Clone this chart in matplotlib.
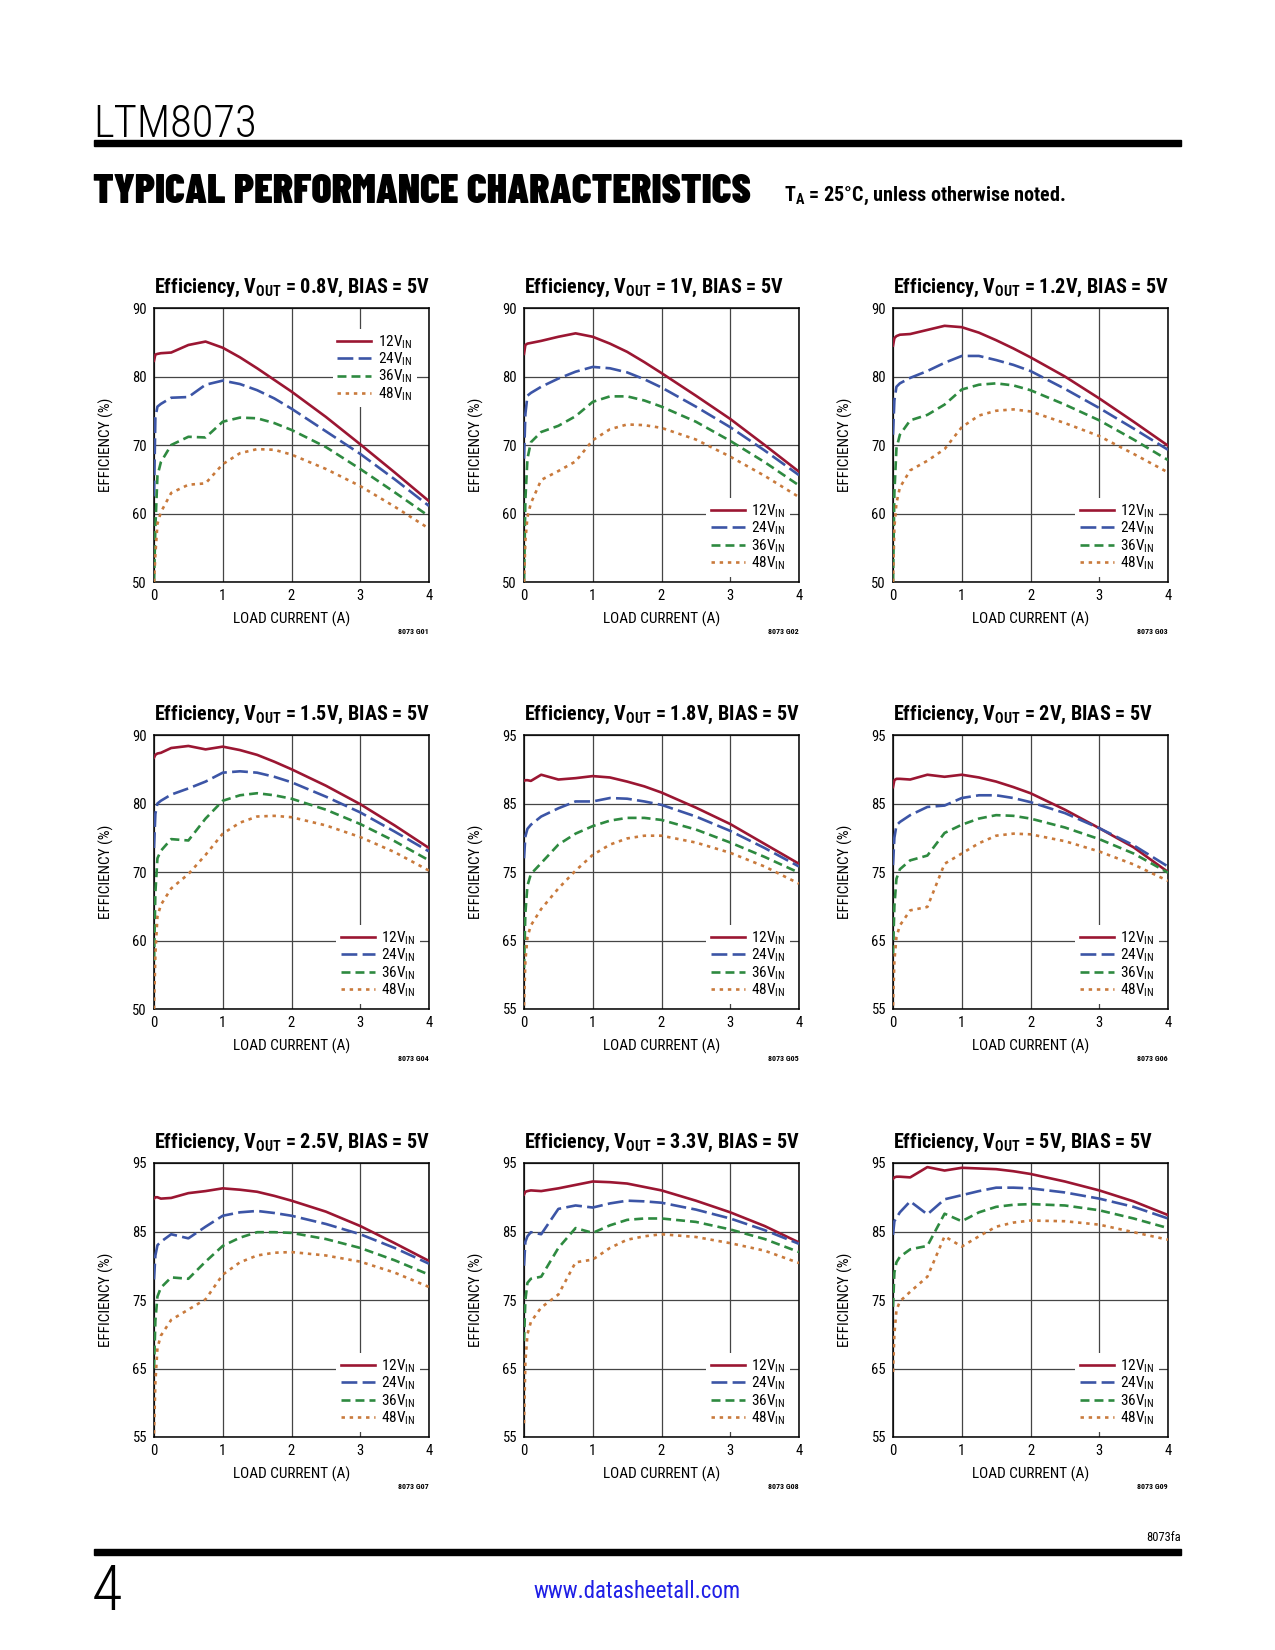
import matplotlib
matplotlib.use('Agg')
import matplotlib.pyplot as plt
from matplotlib.patches import Rectangle

COND = 'Roboto Condensed'
plt.rcParams['font.family'] = [COND, 'Archivo Narrow', 'DejaVu Sans']
plt.rcParams['mathtext.fontset'] = 'custom'
plt.rcParams['mathtext.rm'] = COND
plt.rcParams['mathtext.bf'] = COND + ':bold'
plt.rcParams['mathtext.it'] = COND + ':italic'

# load current grid (A), shared by every curve
load_current = [0, 0.02, 0.05, 0.1, 0.25, 0.5, 0.75, 1.0, 1.25, 1.5, 1.75, 2.0, 2.5, 3.0, 3.5, 4.0]

vin_labels = ['12V$_{\\mathrm{IN}}$', '24V$_{\\mathrm{IN}}$', '36V$_{\\mathrm{IN}}$', '48V$_{\\mathrm{IN}}$']
vout_labels = ['0.8V', '1V', '1.2V', '1.5V', '1.8V', '2V', '2.5V', '3.3V', '5V']
graph_ids = ['G01', 'G02', 'G03', 'G04', 'G05', 'G06', 'G07', 'G08', 'G09']
y_ranges = [(50, 90)] * 4 + [(55, 95)] * 5

# efficiency (%)
g01_12 = [82.3, 83.2, 83.3, 83.4, 83.5, 84.6, 85.1, 84.2, 82.8, 81.2, 79.5, 77.8, 74.1, 70.1, 66.0, 61.8]
g01_24 = [62.5, 74.0, 75.6, 76.0, 76.9, 77.0, 78.8, 79.4, 78.9, 78.0, 76.8, 75.3, 72.0, 68.7, 65.0, 61.1]
g01_36 = [50.0, 58.0, 65.5, 67.5, 70.0, 71.2, 71.1, 73.4, 74.0, 73.9, 73.2, 72.2, 69.7, 66.5, 63.1, 59.6]
g01_48 = [50.0, 54.0, 58.5, 60.2, 63.0, 64.2, 64.4, 67.2, 68.8, 69.4, 69.3, 68.6, 66.5, 64.0, 61.0, 57.8]

g02_12 = [83.3, 84.6, 84.8, 84.9, 85.2, 85.8, 86.3, 85.8, 84.8, 83.6, 82.1, 80.5, 77.2, 73.8, 70.0, 66.1]
g02_24 = [68.0, 74.5, 77.2, 77.6, 78.5, 79.7, 80.7, 81.4, 81.2, 80.6, 79.6, 78.4, 75.6, 72.6, 69.2, 65.6]
g02_36 = [50.0, 62.0, 68.0, 70.4, 71.9, 72.8, 74.2, 76.3, 77.1, 77.1, 76.5, 75.6, 73.4, 70.6, 67.5, 64.1]
g02_48 = [50.0, 56.0, 59.5, 61.5, 64.9, 66.2, 67.6, 70.7, 72.3, 73.0, 72.9, 72.5, 70.8, 68.3, 65.5, 62.4]

g03_12 = [84.5, 85.6, 85.9, 86.1, 86.2, 86.8, 87.4, 87.2, 86.4, 85.3, 84.1, 82.8, 80.0, 76.8, 73.4, 69.9]
g03_24 = [71.5, 76.5, 78.5, 79.0, 79.8, 80.8, 82.0, 83.0, 83.0, 82.4, 81.7, 80.8, 78.2, 75.4, 72.4, 69.3]
g03_36 = [50.0, 63.0, 69.5, 71.5, 73.6, 74.4, 75.9, 78.1, 78.8, 79.0, 78.7, 78.0, 75.9, 73.6, 70.8, 67.8]
g03_48 = [50.0, 58.0, 61.5, 63.8, 66.3, 67.7, 69.4, 72.6, 74.3, 75.0, 75.2, 74.9, 73.2, 71.3, 68.7, 66.0]

g04_12 = [86.7, 87.1, 87.3, 87.4, 88.1, 88.4, 87.9, 88.3, 87.8, 87.1, 86.1, 85.0, 82.6, 79.9, 76.8, 73.5]
g04_24 = [73.5, 78.5, 80.0, 80.4, 81.3, 82.2, 83.2, 84.5, 84.7, 84.5, 83.9, 83.1, 81.0, 78.7, 75.9, 73.0]
g04_36 = [57.0, 67.0, 72.0, 73.1, 74.8, 74.6, 77.8, 80.4, 81.2, 81.5, 81.2, 80.7, 79.1, 77.0, 74.5, 71.7]
g04_48 = [50.0, 58.0, 63.5, 65.2, 67.6, 69.7, 72.5, 75.6, 77.2, 78.1, 78.2, 78.0, 76.8, 75.1, 72.9, 70.2]

g05_12 = [88.3, 88.4, 88.4, 88.3, 89.2, 88.5, 88.7, 89.0, 88.8, 88.2, 87.5, 86.6, 84.4, 82.0, 79.1, 76.2]
g05_24 = [77.0, 80.2, 81.3, 81.9, 83.1, 84.3, 85.3, 85.3, 85.8, 85.7, 85.3, 84.8, 83.1, 81.0, 78.5, 75.8]
g05_36 = [61.0, 69.0, 73.0, 74.7, 76.3, 79.0, 80.6, 81.7, 82.5, 82.9, 82.9, 82.6, 81.2, 79.3, 77.2, 74.9]
g05_48 = [55.5, 62.0, 65.5, 67.2, 69.6, 72.6, 75.2, 77.5, 79.0, 79.9, 80.3, 80.3, 79.3, 77.8, 75.8, 73.3]

g06_12 = [87.4, 88.4, 88.6, 88.6, 88.5, 89.2, 88.9, 89.2, 88.8, 88.2, 87.4, 86.5, 84.1, 81.4, 78.6, 75.0]
g06_24 = [76.0, 80.0, 81.8, 82.3, 83.3, 84.5, 84.7, 85.8, 86.2, 86.2, 85.8, 85.2, 83.6, 81.4, 78.9, 75.8]
g06_36 = [63.0, 70.0, 74.0, 75.4, 76.7, 77.4, 80.7, 81.9, 82.8, 83.3, 83.2, 82.8, 81.5, 79.8, 77.7, 74.9]
g06_48 = [55.5, 62.0, 65.5, 67.2, 69.4, 69.9, 76.2, 77.7, 79.2, 80.3, 80.6, 80.5, 79.5, 78.0, 76.1, 73.7]

g07_12 = [89.8, 90.0, 90.0, 89.8, 89.9, 90.6, 90.9, 91.3, 91.1, 90.8, 90.2, 89.5, 87.9, 85.8, 83.3, 80.7]
g07_24 = [78.0, 81.5, 83.0, 83.5, 84.6, 84.0, 85.7, 87.3, 87.8, 88.0, 87.7, 87.3, 86.1, 84.6, 82.6, 80.3]
g07_36 = [65.0, 72.0, 75.5, 76.8, 78.3, 78.1, 80.6, 82.9, 84.1, 84.9, 84.9, 84.8, 83.9, 82.6, 80.8, 78.7]
g07_48 = [55.5, 63.0, 68.0, 69.8, 72.1, 73.6, 75.1, 78.7, 80.5, 81.5, 81.9, 82.0, 81.5, 80.6, 79.0, 76.9]

g08_12 = [90.4, 90.8, 90.9, 91.0, 90.9, 91.3, 91.8, 92.3, 92.2, 92.0, 91.5, 91.0, 89.5, 87.8, 85.8, 83.4]
g08_24 = [80.0, 83.5, 84.3, 84.9, 84.6, 88.3, 88.8, 88.5, 89.1, 89.5, 89.4, 89.2, 88.2, 86.9, 85.2, 83.2]
g08_36 = [69.0, 75.0, 77.5, 78.1, 78.4, 82.6, 85.5, 84.8, 85.9, 86.7, 86.9, 86.9, 86.4, 85.3, 83.9, 82.0]
g08_48 = [57.0, 66.0, 70.0, 71.8, 73.9, 75.8, 80.5, 80.9, 82.6, 83.8, 84.3, 84.6, 84.2, 83.3, 82.2, 80.4]

g09_12 = [92.7, 92.9, 93.0, 93.0, 92.9, 94.4, 93.9, 94.3, 94.2, 94.1, 93.8, 93.4, 92.3, 91.0, 89.4, 87.4]
g09_24 = [84.5, 86.5, 87.0, 87.8, 89.4, 87.5, 89.7, 90.3, 90.9, 91.4, 91.4, 91.3, 90.7, 89.8, 88.6, 86.9]
g09_36 = [74.0, 79.0, 80.5, 81.3, 82.4, 82.9, 87.6, 86.5, 87.8, 88.6, 88.9, 89.0, 88.8, 88.1, 86.9, 85.5]
g09_48 = [64.5, 70.0, 73.5, 74.8, 76.2, 78.4, 84.3, 82.8, 84.3, 85.7, 86.3, 86.6, 86.5, 86.0, 84.9, 83.8]

graphs = [
    (g01_12, g01_24, g01_36, g01_48),
    (g02_12, g02_24, g02_36, g02_48),
    (g03_12, g03_24, g03_36, g03_48),
    (g04_12, g04_24, g04_36, g04_48),
    (g05_12, g05_24, g05_36, g05_48),
    (g06_12, g06_24, g06_36, g06_48),
    (g07_12, g07_24, g07_36, g07_48),
    (g08_12, g08_24, g08_36, g08_48),
    (g09_12, g09_24, g09_36, g09_48),
]

colors = ['#9b1632', '#3c55a6', '#2e8a40', '#c97a3c']
dashes = [None, (6.0, 2.0), (3.4, 1.9), (1.3, 1.8)]

W, H = 1275, 1650
fig = plt.figure(figsize=(W / 100, H / 100), dpi=100)


def fx(px):
    return px / W


def fy(py):
    return 1 - py / H


# page header / footer
fig.text(fx(93), fy(137), 'LTM8073', fontsize=32, fontweight='light', ha='left', va='baseline')
fig.add_artist(Rectangle((fx(94), fy(146)), fx(1181) - fx(94), 6 / H,
                         transform=fig.transFigure, color='black'))
fig.text(fx(93), fy(203), 'TYPICAL PERFORMANCE CHARACTERISTICS', fontsize=30,
         fontweight=900, family=['Barlow Condensed', 'Oswald', COND],
         ha='left', va='baseline')
fig.text(fx(784), fy(201), 'T$_{\\mathbf{A}}$ = 25°C, unless otherwise noted.',
         fontsize=14.5, fontweight='bold', ha='left', va='baseline')

fig.text(fx(1181), fy(1541), '8073fa', fontsize=9, ha='right', va='baseline')
fig.add_artist(Rectangle((fx(94), fy(1555)), fx(1181) - fx(94), 6 / H,
                         transform=fig.transFigure, color='black'))
fig.text(fx(92), fy(1610), '4', fontsize=45, fontweight='light', ha='left', va='baseline')
fig.text(fx(637), fy(1598), 'www.datasheetall.com', fontsize=16.5, color='#1f1fe6',
         ha='center', va='baseline')

col_left = [154, 524, 893]
row_top = [308, 735, 1163]
aw, ah = 275, 274

for i, series in enumerate(graphs):
    left = col_left[i % 3]
    top = row_top[i // 3]
    ax = fig.add_axes([fx(left), fy(top + ah), aw / W, ah / H])
    lo, hi = y_ranges[i]
    ax.set_xlim(0, 4)
    ax.set_ylim(lo, hi)
    ax.set_xticks([0, 1, 2, 3, 4])
    ax.set_yticks(range(lo, hi + 1, 10))
    ax.grid(True, color='#454545', linewidth=0.9)
    ax.set_axisbelow(True)
    ax.tick_params(length=0, labelsize=10.5, pad=5)
    for sp in ax.spines.values():
        sp.set_linewidth(1.1)

    for j, eff in enumerate(series):
        line, = ax.plot(load_current, eff, color=colors[j], linewidth=1.9,
                        label=vin_labels[j], zorder=3)
        if dashes[j] is not None:
            line.set_dashes(dashes[j])

    leg_kw = dict(fontsize=11, handlelength=2.2, handletextpad=0.45, labelspacing=0.0,
                  borderpad=0.3, borderaxespad=0, fancybox=False)
    if i == 0:
        leg = ax.legend(loc='upper right', bbox_to_anchor=(0.955, 0.925), **leg_kw)
    else:
        leg = ax.legend(loc='lower right', bbox_to_anchor=(0.968, 0.02), **leg_kw)
    leg.set_zorder(5)
    fr = leg.get_frame()
    fr.set_facecolor('white')
    fr.set_edgecolor('none')
    fr.set_alpha(1)

    ax.set_title('Efficiency, V$_{\\mathbf{OUT}}$ = ' + vout_labels[i] + ', BIAS = 5V',
                 loc='left', fontsize=14.5, fontweight='bold', pad=11)
    ax.set_xlabel('LOAD CURRENT (A)', fontsize=11)
    ax.set_ylabel('EFFICIENCY (%)', fontsize=11)
    ax.xaxis.set_label_coords(0.5, -30 / ah)
    ax.yaxis.set_label_coords(-40 / aw, 0.5)
    fig.text(fx(left + aw), fy(top + ah + 52), '8073 ' + graph_ids[i],
             fontsize=5.8, fontweight='bold', ha='right', va='baseline')

fig.savefig('out.png', dpi=100)
